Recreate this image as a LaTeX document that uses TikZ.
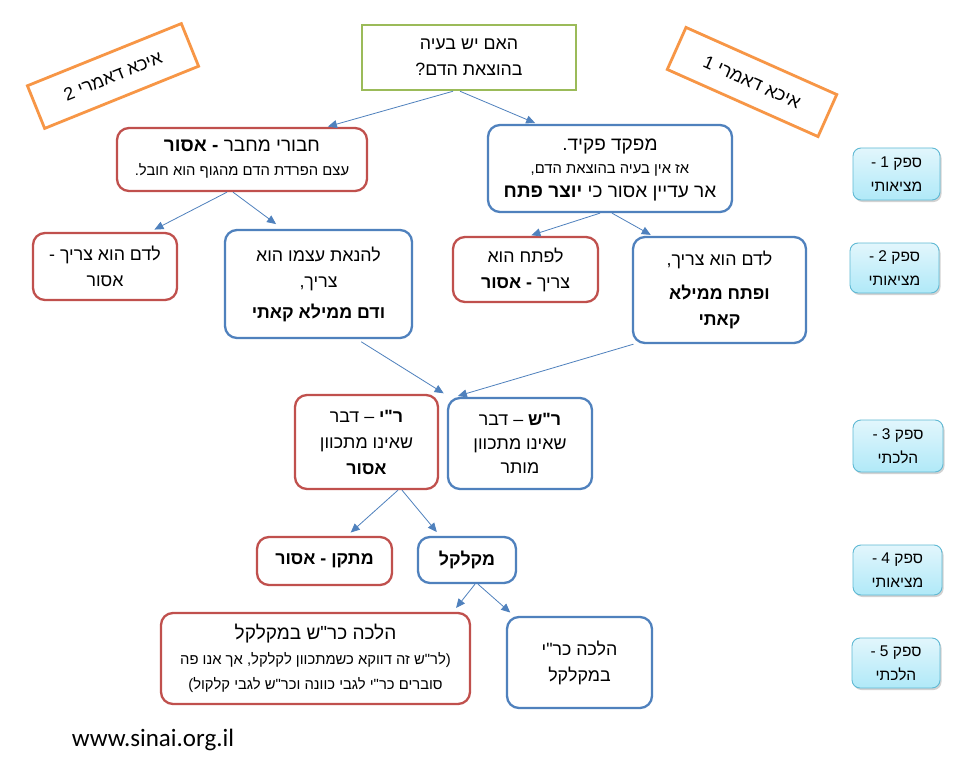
\documentclass[tikz,border=0pt]{standalone}
\usepackage{fontspec}
\setmainfont{Liberation Sans}[Script=Hebrew,Ligatures=TeXOff]
\newfontfamily\webfont{Carlito}
\usepackage{tikz}
\usetikzlibrary{arrows.meta, positioning, shadows}
\TeXXeTstate=1
\definecolor{ansRed}{RGB}{192,80,77}
\definecolor{ansBlue}{RGB}{79,129,189}
\definecolor{qGreen}{RGB}{155,187,89}
\definecolor{dmOrange}{RGB}{247,150,70}
\definecolor{sfkLine}{RGB}{95,185,212}
\definecolor{sfkTop}{RGB}{226,246,252}
\definecolor{sfkBot}{RGB}{176,233,248}
\newcommand{\rl}[1]{\beginR #1\endR}
\newcommand{\smalltxt}{\fontsize{14.8}{20}\selectfont}

\begin{document}
\begin{tikzpicture}[x=1pt,y=-1pt,
    txt/.style={align=center,font=\fontsize{17.8}{26}\selectfont,inner sep=0pt},
    redbox/.style={txt,draw=ansRed,line width=2.3pt,rounded corners=12pt},
    bluebox/.style={txt,draw=ansBlue,line width=2.3pt,rounded corners=12pt},
    qbox/.style={txt,draw=qGreen,line width=2.5pt},
    dmbox/.style={txt,draw=dmOrange,line width=2.8pt,font=\fontsize{18}{22}\selectfont},
    sfkbox/.style={align=center,font=\fontsize{15.5}{24}\selectfont,inner sep=0pt,
      draw=sfkLine,line width=0.9pt,rounded corners=8pt,top color=sfkTop,bottom color=sfkBot,
      drop shadow={shadow xshift=1.5pt,shadow yshift=-2pt,opacity=0.35}},
    link/.style={draw=ansBlue,line width=0.8pt,-{Triangle[length=9pt,width=8pt]}}
  ]
  \fill[white] (0,0) rectangle (953,765);
  \useasboundingbox (0,0) rectangle (953,765);

  % Question and the two versions
  \node[qbox,minimum width=214pt,minimum height=65pt] (q) at (469,57.5)
    {\rl{האם יש בעיה}\\ \rl{בהוצאת הדם?}};
  \node[dmbox,minimum width=166pt,minimum height=46pt,rotate=22] (dm2) at (113,76)
    {\rl{איכא דאמרי 2}};
  \node[dmbox,minimum width=165pt,minimum height=46pt,rotate=-24] (dm1) at (752,82)
    {\rl{איכא דאמרי 1}};

  % Safek 1
  \node[redbox,minimum width=250pt,minimum height=63pt] (hib) at (242,159.5)
    {\fontsize{19}{23}\selectfont\rl{חבורי מחבר \textbf{- אסור}}\\[-2pt]
     \smalltxt\rl{עצם הפרדת הדם מהגוף הוא חובל.}};
  \node[bluebox,minimum width=244pt,minimum height=87pt,text depth=-4pt] (mfk) at (610,168.5)
    {\fontsize{19}{22}\selectfont\rl{מפקד פקיד.}\\[-3pt]
     \smalltxt\rl{אז אין בעיה בהוצאת הדם,}\\[-2pt]
     \fontsize{19}{21}\selectfont\rl{אר עדיין אסור כי \textbf{יוצר פתח}}};

  % Safek 2
  \node[redbox,minimum width=144pt,minimum height=67pt] (ldamA) at (105,266.5)
    {\rl{לדם הוא צריך -}\\ \rl{אסור}};
  \node[bluebox,minimum width=187pt,minimum height=108pt] (hanaa) at (318.5,284)
    {\rl{להנאת עצמו הוא}\\ \rl{צריך,}\\[5pt] \rl{\textbf{ודם ממילא קאתי}}};
  \node[redbox,minimum width=145pt,minimum height=65pt] (lpetach) at (525.5,269.5)
    {\rl{לפתח הוא}\\ \rl{צריך \textbf{- אסור}}};
  \node[bluebox,minimum width=173pt,minimum height=106pt] (ldamB) at (719.5,290)
    {\rl{לדם הוא צריך,}\\[8pt] \rl{\textbf{ופתח ממילא}}\\ \rl{\textbf{קאתי}}};

  % Safek 3
  \node[redbox,minimum width=143pt,minimum height=94pt] (ry) at (366.5,442)
    {\rl{\textbf{ר"י} – דבר}\\ \rl{שאינו מתכוון}\\ \rl{\textbf{אסור}}};
  \node[bluebox,minimum width=144pt,minimum height=91pt] (rs) at (520,443.5)
    {\rl{\textbf{ר"ש} – דבר}\\[-2pt] \rl{שאינו מתכוון}\\[-2pt] \rl{מותר}};

  % Safek 4
  \node[redbox,minimum width=135pt,minimum height=48pt] (metaken) at (324.5,561)
    {\rl{\textbf{מתקן - אסור}}};
  \node[bluebox,minimum width=98pt,minimum height=46pt] (mekalkel) at (467,560)
    {\rl{\textbf{מקלקל}}};

  % Safek 5
  \node[redbox,minimum width=309pt,minimum height=91pt] (halRS) at (315.5,658.5)
    {\fontsize{19}{24}\selectfont\rl{הלכה כר"ש במקלקל}\\[-1pt]
     \smalltxt\rl{לר"ש זה דווקא כשמתכוון לקלקל, אך אנו פה}(\\[-1pt]
     \smalltxt)\rl{סוברים כר"י לגבי כוונה וכר"ש לגבי קלקול}};
  \node[bluebox,minimum width=145pt,minimum height=91pt] (halRY) at (579.5,662.5)
    {\rl{הלכה כר"י}\\ \rl{במקלקל}};

  % Safek labels
  \node[sfkbox,minimum width=87pt,minimum height=52pt] (s1) at (896.5,174)
    {\rl{ספק 1 -}\\ \rl{מציאותי}};
  \node[sfkbox,minimum width=89pt,minimum height=50pt] (s2) at (894.5,268)
    {\rl{ספק 2 -}\\ \rl{מציאותי}};
  \node[sfkbox,minimum width=90pt,minimum height=52pt] (s3) at (898,446)
    {\rl{ספק 3 -}\\ \rl{הלכתי}};
  \node[sfkbox,minimum width=89pt,minimum height=50pt] (s4) at (897.5,570)
    {\rl{ספק 4 -}\\ \rl{מציאותי}};
  \node[sfkbox,minimum width=88pt,minimum height=50pt] (s5) at (896,663)
    {\rl{ספק 5 -}\\ \rl{הלכתי}};

  \node[font=\webfont\fontsize{25}{28}\selectfont,inner sep=0pt] (web) at (153,740)
    {www.sinai.org.il};

  % Connectors
  \draw[link,shorten >=1pt] ([xshift=-16pt]q.south) -- ([xshift=85pt]hib.north);
  \draw[link,shorten >=2pt] ([xshift=-9pt]q.south) -- ([xshift=-73pt]mfk.north);
  \draw[link,shorten >=5pt] ([xshift=-15pt]hib.south) -- ([xshift=45pt]ldamA.north);
  \draw[link,shorten >=8pt] ([xshift=-9pt]hib.south) -- ([xshift=-36pt]hanaa.north);
  \draw[link,shorten >=2pt] ([xshift=-10pt]mfk.south) -- ([xshift=4pt]lpetach.north);
  \draw[link,shorten >=2pt] ([xshift=2pt]mfk.south) -- ([xshift=-67pt]ldamB.north);
  \draw[link,shorten <=5pt,shorten >=1pt] ([xshift=38.5pt]hanaa.south) -- ([xshift=78pt]ry.north);
  \draw[link,shorten >=3pt] ([xshift=-86pt]ldamB.south) -- ([xshift=-65pt]rs.north);
  \draw[link,shorten >=5pt] ([xshift=31.5pt]ry.south) -- ([xshift=22.5pt]metaken.north);
  \draw[link,shorten >=5pt] ([xshift=35.5pt]ry.south) -- ([xshift=-27pt]mekalkel.north);
  \draw[link,shorten >=5pt] ([xshift=8pt]mekalkel.south) -- ([xshift=137.5pt]halRS.north);
  \draw[link,shorten >=5pt] ([xshift=11pt]mekalkel.south) -- ([xshift=-65.5pt]halRY.north);

\end{tikzpicture}
\end{document}
